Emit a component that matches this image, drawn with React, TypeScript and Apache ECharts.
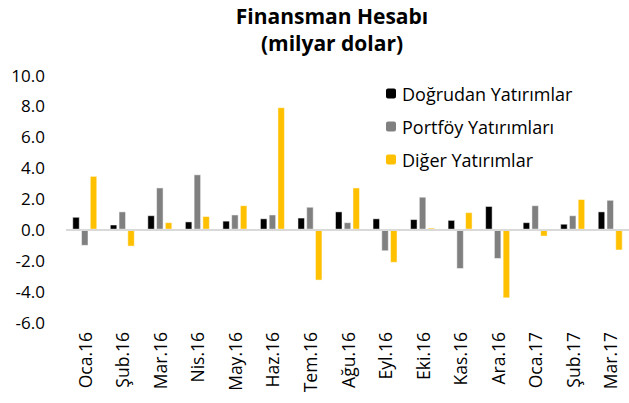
import React, { useEffect, useRef } from "react";
import * as echarts from "echarts";

const categories = ["Oca.16", "Şub.16", "Mar.16", "Nis.16", "May.16", "Haz.16", "Tem.16", "Ağu.16", "Eyl.16", "Eki.16", "Kas.16", "Ara.16", "Oca.17", "Şub.17", "Mar.17"];
const dogrudan = [0.8, 0.3, 0.9, 0.5, 0.55, 0.7, 0.75, 1.15, 0.7, 0.65, 0.6, 1.5, 0.45, 0.35, 1.15];
const portfoy = [-1.05, 1.15, 2.7, 3.55, 0.95, 0.95, 1.45, 0.45, -1.4, 2.1, -2.55, -1.9, 1.55, 0.9, 1.9];
const diger = [3.45, -1.1, 0.45, 0.85, 1.55, 7.9, -3.3, 2.7, -2.15, 0.1, 1.1, -4.45, -0.45, 1.95, -1.35];
const seriesNames = ["Doğrudan Yatırımlar", "Portföy Yatırımları", "Diğer Yatırımlar"];
const titleLines = ["Finansman Hesabı", "(milyar dolar)"];
const yTicks = { min: -6, max: 10, interval: 2 };

const FONT = "'Open Sans', sans-serif";

export default function App() {
  const ref = useRef<HTMLDivElement>(null);
  useEffect(() => {
    if (!ref.current) return;
    const chart = echarts.init(ref.current, null, { renderer: "svg" });
    const barBase = {
      type: "bar" as const,
      barWidth: 7,
      barGap: "25%",
      itemStyle: { borderColor: "#ffffff", borderWidth: 0.5 },
    };
    const titleStyle = { fontFamily: FONT, fontSize: 21, fontWeight: "bold", color: "#000", lineHeight: 22 };
    chart.setOption({
      animation: false,
      backgroundColor: "#ffffff",
      textStyle: { fontFamily: FONT },
      title: [
        { text: titleLines[0], left: 332, textAlign: "center", top: 5, padding: 0, textStyle: titleStyle },
        { text: titleLines[1], left: 332, textAlign: "center", top: 32, padding: 0, textStyle: titleStyle },
      ],
      legend: {
        orient: "vertical",
        left: 379,
        top: 78,
        itemWidth: 12,
        itemHeight: 12,
        itemGap: 12,
        textStyle: { fontFamily: FONT, fontSize: 18, color: "#000", lineHeight: 21 },
        data: seriesNames,
      },
      grid: { left: 66, top: 75, width: 572, height: 247 },
      xAxis: {
        type: "category",
        data: categories,
        axisLine: { show: false, onZero: false },
        axisTick: { show: false },
        axisLabel: { rotate: 90, margin: 10, fontFamily: FONT, fontSize: 17.5, color: "#000", interval: 0 },
      },
      yAxis: {
        type: "value",
        min: yTicks.min,
        max: yTicks.max,
        interval: yTicks.interval,
        splitLine: { show: false },
        axisLine: { show: false },
        axisTick: { show: false },
        axisLabel: { margin: 21, fontFamily: FONT, fontSize: 17, color: "#000", formatter: (v: number) => v.toFixed(1) },
      },
      series: [
        {
          ...barBase,
          name: seriesNames[0],
          data: dogrudan,
          itemStyle: { ...barBase.itemStyle, color: "#000000" },
          markLine: {
            silent: true,
            symbol: "none",
            label: { show: false },
            lineStyle: { color: "#d9d9d9", width: 2, type: "solid" },
            data: [{ yAxis: 0 }],
          },
          z: 3,
        },
        { ...barBase, name: seriesNames[1], data: portfoy, itemStyle: { ...barBase.itemStyle, color: "#808080" }, z: 3 },
        { ...barBase, name: seriesNames[2], data: diger, itemStyle: { ...barBase.itemStyle, color: "#FFC000" }, z: 3 },
      ],
    });
    return () => chart.dispose();
  }, []);
  return <div ref={ref} style={{ position: "fixed", left: 0, top: 0, width: 629, height: 403 }} />;
}
